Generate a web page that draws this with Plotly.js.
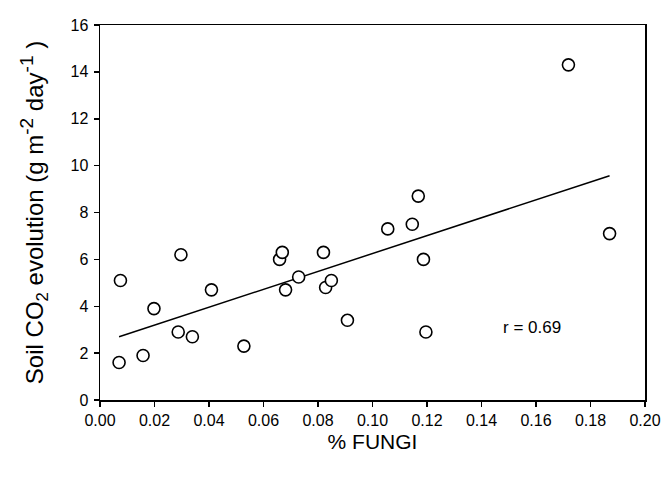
<!DOCTYPE html>
<html>
<head>
<meta charset="utf-8">
<script src="https://cdn.plot.ly/plotly-3.0.1.min.js"></script>
<style>html,body{margin:0;padding:0;background:#fff;}#chart{width:663px;height:484px;}</style>
</head>
<body>
<div id="chart"></div>
<script>
const fungiPct = [0.007, 0.0075, 0.0158, 0.0198, 0.0287, 0.0297, 0.0339, 0.0409, 0.0528, 0.0659, 0.0669, 0.0681, 0.0729, 0.0820, 0.0828, 0.0849, 0.0908, 0.1056, 0.1146, 0.1168, 0.1187, 0.1196, 0.1719, 0.187];
const co2Evolution = [1.6, 5.1, 1.9, 3.9, 2.9, 6.2, 2.7, 4.7, 2.3, 6.0, 6.3, 4.7, 5.25, 6.3, 4.8, 5.1, 3.4, 7.3, 7.5, 8.7, 6.0, 2.9, 14.3, 7.1];
const fitX = [0.007, 0.187];
const fitY = [2.70, 9.57];
const rLabel = "r = 0.69";
const yTicks = [0, 2, 4, 6, 8, 10, 12, 14, 16];
const xTicks = [0, 0.02, 0.04, 0.06, 0.08, 0.10, 0.12, 0.14, 0.16, 0.18, 0.20];

const font = {family: "Liberation Sans, Arial, sans-serif", color: "#000"};

const data = [
  {x: fitX, y: fitY, mode: "lines", line: {color: "#000", width: 1.5}, hoverinfo: "skip", showlegend: false},
  {x: fungiPct, y: co2Evolution, mode: "markers", showlegend: false,
   marker: {symbol: "circle", size: 12, color: "#fff", line: {color: "#000", width: 1.6}}}
];

const layout = {
  width: 663, height: 484,
  margin: {l: 100, r: 18, t: 25, b: 84},
  paper_bgcolor: "#fff", plot_bgcolor: "#fff",
  font: Object.assign({size: 16}, font),
  xaxis: {
    range: [0, 0.20], tickvals: xTicks, tickformat: ".2f",
    showgrid: false, zeroline: false, showline: true, linecolor: "#000", linewidth: 1.5,
    mirror: true, ticks: "outside", ticklen: 5, tickcolor: "#000", tickwidth: 1.5,
    tickfont: Object.assign({size: 16}, font),
    title: {text: "% FUNGI", font: Object.assign({size: 21}, font), standoff: 6}
  },
  yaxis: {
    range: [0, 16], tickvals: yTicks,
    showgrid: false, zeroline: false, showline: true, linecolor: "#000", linewidth: 1.5,
    mirror: true, ticks: "outside", ticklen: 5, tickcolor: "#000", tickwidth: 1.5,
    tickfont: Object.assign({size: 16}, font), ticklabelstandoff: 2,
    title: {text: "Soil CO<sub>2</sub> evolution (g m<sup><span style='font-size:19px'>-2</span></sup> day<sup><span style='font-size:19px'>-1</span></sup> )", font: Object.assign({size: 24}, font), standoff: 20}
  },
  annotations: [
    {x: 0.1585, y: 3.1, xref: "x", yref: "y", text: rLabel, showarrow: false,
     font: Object.assign({size: 17}, font), xanchor: "center", yanchor: "middle"}
  ]
};

Plotly.newPlot("chart", data, layout, {displayModeBar: false, staticPlot: true});
</script>
</body>
</html>
